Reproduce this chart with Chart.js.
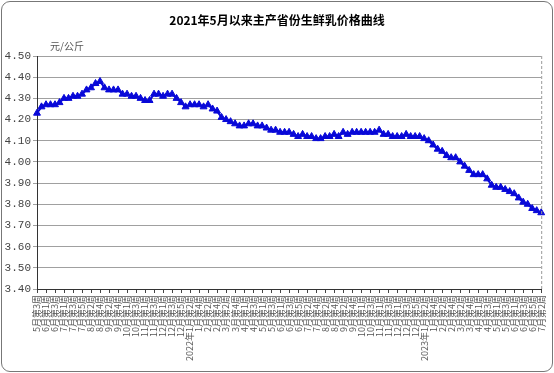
<!DOCTYPE html>
<html>
<head>
<meta charset="utf-8">
<script src="https://cdn.jsdelivr.net/npm/chart.js@4"></script>
<style>
html, body { margin: 0; padding: 0; background: #fff; }
#wrap { position: relative; width: 554px; height: 373px; overflow: hidden; }
#frame { position: absolute; left: 1px; top: 1px; width: 550px; height: 369px; border: 1px solid #777; border-radius: 9px; }
#title { position: absolute; left: 0; top: 11px; width: 554px; text-align: center; font: bold 12px "Noto Sans CJK SC"; color: #000; }
#unit { position: absolute; left: 50px; top: 38px; font: 10px "Noto Sans CJK SC"; color: #555; }
canvas { position: absolute; left: 0; top: 0; }
</style>
</head>
<body>
<div id="wrap">
  <div id="frame"></div>
  <canvas id="priceChart" width="554" height="373"></canvas>
  <div id="title">2021年5月以来主产省份生鲜乳价格曲线</div>
  <div id="unit">元/公斤</div>
</div>
<script>
// semanas (2021年5月第3周 - 2023年7月第2周)
const weeks = [
    '5月第3周', '5月第4周',
    '6月第1周', '6月第2周', '6月第3周', '6月第4周',
    '7月第1周', '7月第2周', '7月第3周', '7月第4周', '7月第5周',
    '8月第1周', '8月第2周', '8月第3周', '8月第4周',
    '9月第1周', '9月第2周', '9月第3周', '9月第4周', '9月第5周',
    '10月第1周', '10月第2周', '10月第3周', '10月第4周',
    '11月第1周', '11月第2周', '11月第3周', '11月第4周',
    '12月第1周', '12月第2周', '12月第3周', '12月第4周', '12月第5周',
    '1月第1周', '2022年1月第2周', '1月第3周', '1月第4周',
    '2月第1周', '2月第2周', '2月第3周', '2月第4周',
    '3月第1周', '3月第2周', '3月第3周', '3月第4周', '3月第5周',
    '4月第1周', '4月第2周', '4月第3周', '4月第4周',
    '5月第1周', '5月第2周', '5月第3周', '5月第4周',
    '6月第1周', '6月第2周', '6月第3周', '6月第4周', '6月第5周',
    '7月第1周', '7月第2周', '7月第3周', '7月第4周',
    '8月第1周', '8月第2周', '8月第3周', '8月第4周',
    '9月第1周', '9月第2周', '9月第3周', '9月第4周', '9月第5周',
    '10月第1周', '10月第2周', '10月第3周', '10月第4周',
    '11月第1周', '11月第2周', '11月第3周', '11月第4周',
    '12月第1周', '12月第2周', '12月第3周', '12月第4周', '12月第5周',
    '1月第1周', '2023年1月第2周', '1月第3周', '1月第4周',
    '2月第1周', '2月第2周', '2月第3周', '2月第4周',
    '3月第1周', '3月第2周', '3月第3周', '3月第4周', '3月第5周',
    '4月第1周', '4月第2周', '4月第3周', '4月第4周',
    '5月第1周', '5月第2周', '5月第3周', '5月第4周',
    '6月第1周', '6月第2周', '6月第3周', '6月第4周', '6月第5周',
    '7月第1周', '7月第2周'
];

// precio del 生鲜乳 (元/公斤)
const prices = [
    4.23, 4.26, 4.27, 4.27, 4.27, 4.28, 4.30, 4.30, 4.31, 4.31,
    4.32, 4.34, 4.35, 4.37, 4.38, 4.35, 4.34, 4.34, 4.34, 4.32,
    4.32, 4.31, 4.31, 4.30, 4.29, 4.29, 4.32, 4.32, 4.31, 4.32,
    4.32, 4.30, 4.28, 4.26, 4.27, 4.27, 4.27, 4.26, 4.27, 4.25,
    4.24, 4.21, 4.20, 4.19, 4.18, 4.17, 4.17, 4.18, 4.18, 4.17,
    4.17, 4.16, 4.15, 4.15, 4.14, 4.14, 4.14, 4.13, 4.12, 4.13,
    4.12, 4.12, 4.11, 4.11, 4.12, 4.12, 4.13, 4.12, 4.14, 4.13,
    4.14, 4.14, 4.14, 4.14, 4.14, 4.14, 4.15, 4.13, 4.13, 4.12,
    4.12, 4.12, 4.13, 4.12, 4.12, 4.12, 4.11, 4.10, 4.08, 4.06,
    4.05, 4.03, 4.02, 4.02, 4.00, 3.98, 3.96, 3.94, 3.94, 3.94,
    3.92, 3.89, 3.88, 3.88, 3.87, 3.86, 3.85, 3.83, 3.81, 3.80,
    3.78, 3.77, 3.76
];

const yMin = 3.40;
const yMax = 4.50;
const yStep = 0.05;

const lineBlue = '#0808d8';

// borde derecho punteado del area
const dashedRight = {
    id: 'dashedRight',
    afterDraw(chart) {
        const { ctx, chartArea } = chart;
        ctx.save();
        ctx.strokeStyle = '#999';
        ctx.lineWidth = 1;
        ctx.setLineDash([3, 2]);
        ctx.beginPath();
        ctx.moveTo(chartArea.right + 0.5, chartArea.top);
        ctx.lineTo(chartArea.right + 0.5, chartArea.bottom);
        ctx.stroke();
        ctx.restore();
    }
};

new Chart(document.getElementById('priceChart'), {
    type: 'line',
    data: {
        labels: weeks,
        datasets: [{
            data: prices,
            borderColor: lineBlue,
            backgroundColor: lineBlue,
            borderWidth: 2,
            pointStyle: 'triangle',
            pointRadius: 4,
            pointBorderWidth: 1,
            pointBackgroundColor: lineBlue,
            pointBorderColor: lineBlue,
            tension: 0
        }]
    },
    options: {
        responsive: false,
        animation: false,
        layout: { padding: { top: 56, right: 9, left: 0, bottom: 0 } },
        plugins: {
            legend: { display: false },
            tooltip: { enabled: false }
        },
        scales: {
            x: {
                offset: false,
                afterFit(scale) { scale.height = 84; },
                border: { color: '#333' },
                grid: {
                    drawOnChartArea: false,
                    tickLength: 4,
                    color: (c) => (c.index % 2 === 0 ? '#444' : 'transparent')
                },
                ticks: {
                    autoSkip: false,
                    minRotation: 90,
                    maxRotation: 90,
                    padding: 2,
                    color: '#555',
                    font: { family: '"Noto Sans CJK SC"', size: 9 },
                    callback(value, index) {
                        return index % 2 === 0 ? this.getLabelForValue(value) : '';
                    }
                }
            },
            y: {
                min: yMin,
                max: yMax,
                afterFit(scale) { scale.width = 37; },
                border: { color: '#333' },
                grid: {
                    color: '#a0a0a0',
                    tickLength: 4
                },
                ticks: {
                    stepSize: yStep,
                    padding: 2,
                    color: '#444',
                    font: { family: '"Liberation Mono"', size: 11 },
                    callback: (v) => Number(v).toFixed(2)
                }
            }
        }
    },
    plugins: [dashedRight]
});
</script>
</body>
</html>
